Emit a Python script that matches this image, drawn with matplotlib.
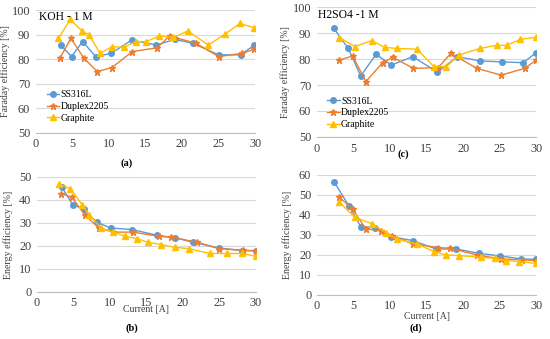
import matplotlib
matplotlib.use("Agg")
import matplotlib.pyplot as plt

plt.rcParams['font.family'] = ['Liberation Serif', 'DejaVu Serif']

# (a) KOH Faraday efficiency
koh_fe_ss_x = [3.4, 4.9, 6.4, 8.2, 10.3, 13.1, 16.5, 19.0, 21.5, 25.0, 28.0, 29.9]
koh_fe_ss_y = [85.8, 81.1, 87.2, 81.1, 82.4, 87.8, 85.8, 88.1, 86.5, 81.8, 81.8, 85.8]
koh_fe_du_x = [3.3, 4.8, 6.6, 8.4, 10.4, 13.2, 16.6, 18.3, 21.9, 25.0, 28.2, 29.9]
koh_fe_du_y = [80.4, 88.5, 80.4, 75.0, 76.6, 83.1, 84.7, 89.5, 86.5, 81.1, 82.4, 84.1]
koh_fe_gr_x = [3.1, 4.7, 6.3, 7.3, 8.8, 10.4, 12.1, 13.7, 15.1, 16.9, 18.8, 20.8, 23.6, 25.9, 27.9, 29.9]
koh_fe_gr_y = [88.5, 96.2, 91.6, 89.9, 82.4, 85.1, 84.9, 87.2, 87.2, 89.5, 88.9, 91.5, 85.8, 90.3, 94.6, 92.8]

# (c) H2SO4 Faraday efficiency
h2_fe_ss_x = [2.3, 4.3, 6.0, 8.1, 10.2, 13.1, 16.5, 19.2, 22.3, 25.3, 28.2, 30.0]
h2_fe_ss_y = [91.9, 84.1, 73.5, 81.8, 77.7, 80.9, 75.0, 80.9, 79.3, 78.9, 78.6, 82.5]
h2_fe_du_x = [3.1, 4.9, 6.7, 9.0, 10.4, 13.2, 16.6, 18.3, 21.9, 25.2, 28.4, 30.0]
h2_fe_du_y = [79.6, 81.2, 71.3, 78.6, 80.7, 76.4, 76.7, 82.2, 76.4, 73.8, 76.4, 79.6]
h2_fe_gr_x = [3.1, 5.2, 7.5, 9.3, 10.9, 13.7, 16.0, 17.7, 19.5, 22.3, 24.6, 26.0, 27.8, 30.0]
h2_fe_gr_y = [88.3, 84.8, 87.1, 84.5, 84.1, 83.8, 77.1, 77.1, 81.6, 84.1, 85.3, 85.3, 87.6, 88.4]

# (b) KOH energy efficiency
koh_ee_ss_x = [3.4, 4.9, 6.4, 8.2, 10.1, 13.1, 16.5, 19.0, 21.4, 24.9, 28.1, 30.0]
koh_ee_ss_y = [45.7, 38.0, 36.1, 30.3, 27.8, 27.1, 24.6, 23.5, 21.6, 19.1, 18.0, 18.0]
koh_ee_du_x = [3.3, 4.8, 6.6, 8.5, 10.5, 13.2, 16.7, 18.4, 22.0, 25.0, 28.3, 30.0]
koh_ee_du_y = [42.8, 41.2, 33.4, 27.8, 26.0, 26.0, 24.2, 23.8, 21.6, 18.8, 18.1, 17.7]
koh_ee_gr_x = [3.0, 4.6, 6.2, 7.2, 8.8, 10.4, 12.1, 13.7, 15.2, 17.0, 18.9, 20.8, 23.7, 26.1, 28.1, 30.0]
koh_ee_gr_y = [47.0, 44.8, 38.0, 33.4, 27.8, 26.1, 24.2, 23.2, 21.6, 20.6, 19.4, 18.8, 16.7, 16.7, 16.7, 15.5]

# (d) H2SO4 energy efficiency
h2_ee_ss_x = [2.4, 4.4, 6.0, 7.9, 10.1, 13.1, 16.3, 19.0, 22.2, 25.1, 27.9, 29.9]
h2_ee_ss_y = [56.3, 44.5, 34.2, 33.7, 29.2, 27.2, 23.0, 23.0, 20.8, 19.5, 18.0, 17.8]
h2_ee_du_x = [3.0, 4.9, 6.7, 8.8, 10.3, 13.1, 16.6, 18.2, 21.9, 25.2, 28.1, 29.9]
h2_ee_du_y = [49.2, 42.8, 33.0, 32.2, 29.7, 25.5, 23.7, 23.3, 20.0, 18.0, 17.5, 17.2]
h2_ee_gr_x = [3.1, 5.2, 7.6, 9.4, 10.9, 13.7, 16.0, 17.6, 19.4, 22.4, 24.4, 25.8, 27.6, 29.9]
h2_ee_gr_y = [46.3, 38.8, 35.5, 31.2, 28.0, 25.5, 21.7, 20.0, 19.7, 18.8, 18.3, 17.2, 16.7, 15.8]

series_names = ["SS316L", "Duplex2205", "Graphite"]
colors = ["#5B9BD5", "#ED7D31", "#FFC000"]
markers = ["o", "*", "^"]
msizes = [4, 4.5, 4]
TXT = "#404040"


def draw(ax, data, ylabel, ylab_x):
    for (x, y), c, m, ms, name in zip(data, colors, markers, msizes, series_names):
        ax.plot(x, y, color=c, marker=m, markersize=ms, linewidth=1, label=name)
    ax.set_xlim(0, 30)
    ax.set_xticks(range(0, 31, 5))
    ax.grid(axis="y", color="#d9d9d9", linewidth=0.8)
    ax.set_axisbelow(True)
    for s in ["top", "right", "left"]:
        ax.spines[s].set_visible(False)
    ax.spines["bottom"].set_color("#bfbfbf")
    ax.tick_params(length=0, labelsize=8.8, colors=TXT, pad=4)
    ax.set_ylabel(ylabel, fontsize=7.1, color=TXT)
    ax.yaxis.set_label_coords(ylab_x, 0.5)


def add_legend(ax, xa, ya):
    ax.legend(loc="center left", bbox_to_anchor=(xa, ya), frameon=False, fontsize=7,
              handlelength=1.3, labelspacing=0.28, borderpad=0, borderaxespad=0,
              handletextpad=0.15)


fig = plt.figure(figsize=(5.5, 3.39), dpi=100)

ax_a = fig.add_axes([0.065, 0.608, 0.399, 0.362])
draw(ax_a, [(koh_fe_ss_x, koh_fe_ss_y), (koh_fe_du_x, koh_fe_du_y), (koh_fe_gr_x, koh_fe_gr_y)],
     "Faraday efficiency [%]", -0.118)
ax_a.set_ylim(50, 100)
ax_a.set_yticks(range(50, 101, 10))
ax_a.text(0.014, 0.99, "KOH - 1 M", transform=ax_a.transAxes, fontsize=8.4, va="top", ha="left")
add_legend(ax_a, 0.05, 0.214)
fig.text(0.231, 0.519, "(a)", ha="center", va="center", fontsize=7.5, fontweight="bold")

ax_c = fig.add_axes([0.576, 0.596, 0.399, 0.383])
draw(ax_c, [(h2_fe_ss_x, h2_fe_ss_y), (h2_fe_du_x, h2_fe_du_y), (h2_fe_gr_x, h2_fe_gr_y)],
     "Faraday efficiency [%]", -0.12)
ax_c.set_ylim(50, 100)
ax_c.set_yticks(range(50, 101, 10))
ax_c.text(0.006, 0.985, "H2SO4 -1 M", transform=ax_c.transAxes, fontsize=8.4, va="top", ha="left")
add_legend(ax_c, 0.046, 0.185)
fig.text(0.733, 0.546, "(c)", ha="center", va="center", fontsize=7.5, fontweight="bold")

ax_b = fig.add_axes([0.067, 0.139, 0.398, 0.339])
draw(ax_b, [(koh_ee_ss_x, koh_ee_ss_y), (koh_ee_du_x, koh_ee_du_y), (koh_ee_gr_x, koh_ee_gr_y)],
     "Energy efficiency [%]", -0.108)
ax_b.set_ylim(0, 50)
ax_b.set_yticks(range(0, 51, 10))
ax_b.set_xlabel("Current [A]", fontsize=7, color=TXT)
ax_b.xaxis.set_label_coords(0.5, -0.117)
fig.text(0.24, 0.032, "(b)", ha="center", va="center", fontsize=7.5, fontweight="bold")

ax_d = fig.add_axes([0.576, 0.130, 0.399, 0.354])
draw(ax_d, [(h2_ee_ss_x, h2_ee_ss_y), (h2_ee_du_x, h2_ee_du_y), (h2_ee_gr_x, h2_ee_gr_y)],
     "Energy efficiency [%]", -0.114)
ax_d.set_ylim(0, 60)
ax_d.set_yticks(range(0, 61, 10))
ax_d.set_xlabel("Current [A]", fontsize=7, color=TXT)
ax_d.xaxis.set_label_coords(0.5, -0.146)
fig.text(0.756, 0.032, "(d)", ha="center", va="center", fontsize=7.5, fontweight="bold")

fig.savefig("out.png", dpi=100)
